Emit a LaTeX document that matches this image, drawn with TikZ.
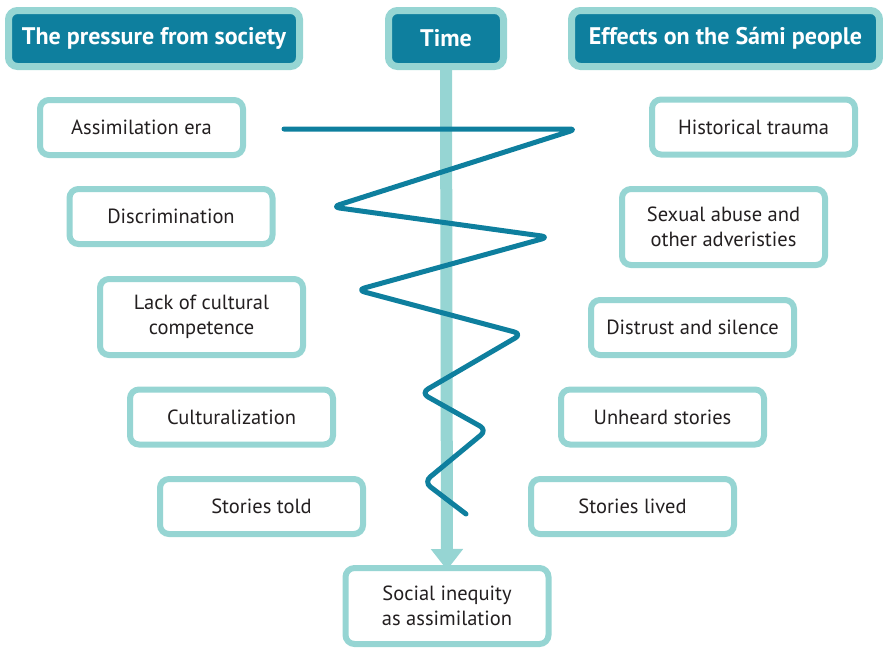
\documentclass[tikz,border=0pt]{standalone}
\usepackage{fontspec}
\setmainfont{PT Sans}
\usetikzlibrary{arrows.meta}
\definecolor{deepteal}{RGB}{14,127,158}
\definecolor{paleteal}{RGB}{150,213,211}
\definecolor{inkgray}{RGB}{35,31,32}
\tikzset{
  headbox/.style={draw=paleteal, fill=deepteal, line width=7pt, rounded corners=9pt,
    minimum height=56pt, inner sep=0pt, outer sep=0pt, text=white,
    font=\fontsize{24}{28}\selectfont\bfseries},
  itembox/.style={draw=paleteal, fill=white, line width=6pt, rounded corners=9pt,
    minimum width=203pt, minimum height=55pt, inner sep=0pt, outer sep=0pt,
    text=inkgray, align=center, font=\fontsize{20.5}{25.5}\selectfont},
  tallbox/.style={itembox, minimum height=76pt},
  timebar/.style={draw=paleteal, line width=12pt,
    -{Triangle[width=31pt,length=21pt]}},
  zigzag/.style={draw=deepteal, line width=5pt, rounded corners=8pt,
    line cap=round, line join=round}
}
\begin{document}
\begin{tikzpicture}[x=1pt,y=-1pt]
\useasboundingbox (0,0) rectangle (883,648);

% column headers
\node[headbox, minimum width=291pt] (pressure) at (154,38.5) {The pressure from society};
\node[headbox, minimum width=115pt] (time) at (446,38.5) {Time};
\node[headbox, minimum width=308pt] (effects) at (725.5,38.5) {Effects on the Sámi people};

% outcome box
\node[tallbox] (inequity) at (447,606) {Social inequity\\as assimilation};

% time axis
\draw[timebar] (time.south) -- ([yshift=-2pt]inequity.north);

% pressures
\node[itembox] (l1) at (141.5,127.5) {Assimilation era};
\node[itembox] (l2) at (171,216.5) {Discrimination};
\node[tallbox] (l3) at (201.5,317) {Lack of cultural\\competence};
\node[itembox] (l4) at (231.5,417) {Culturalization};
\node[itembox] (l5) at (261.5,506.5) {Stories told};

% effects
\node[itembox] (r1) at (753.5,127) {Historical trauma};
\node[tallbox] (r2) at (723.5,227) {Sexual abuse and\\other adveristies};
\node[itembox] (r3) at (692.5,327.5) {Distrust and silence};
\node[itembox] (r4) at (662.5,417) {Unheard stories};
\node[itembox] (r5) at (632.5,506.5) {Stories lived};

% swinging line along the time axis
\coordinate (z0) at (284,129);
\coordinate (z1) at (577,129);
\coordinate (z2) at (332,207);
\coordinate (z3) at (549,237);
\coordinate (z4) at (357,290);
\coordinate (z5) at (522,334);
\coordinate (z6) at (421,393);
\coordinate (z7) at (487,430);
\coordinate (z8) at (424,482);
\coordinate (z9) at (466,514);
\draw[zigzag] (z0) -- (z1) -- (z2) -- (z3) -- (z4) -- (z5) -- (z6) -- (z7) -- (z8) -- (z9);
\end{tikzpicture}
\end{document}
